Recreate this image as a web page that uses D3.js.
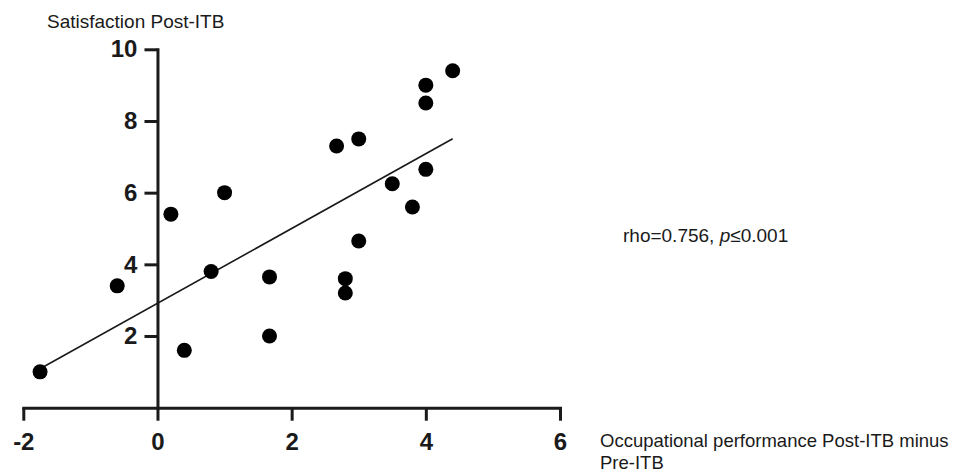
<!DOCTYPE html>
<html>
<head>
<meta charset="utf-8">
<script src="https://cdn.jsdelivr.net/npm/d3@7"></script>
<style>
  body { margin: 0; background: #fff; }
  svg { display: block; font-family: "Liberation Sans", Arial, sans-serif; }
</style>
</head>
<body>
<svg id="chart" width="960" height="472"></svg>
<script>
// occupational performance change (x) vs satisfaction post-ITB (y)
const perfChange = [-1.75, -0.6, 0.2, 0.4, 0.8, 1.0, 1.67, 1.67, 2.67, 3.0, 2.8, 2.8, 3.0, 3.5, 3.8, 4.0, 4.0, 4.0, 4.4];
const satisfaction = [1.0, 3.4, 5.4, 1.6, 3.8, 6.0, 3.65, 2.0, 7.3, 7.5, 3.6, 3.2, 4.65, 6.25, 5.6, 9.0, 8.5, 6.65, 9.4];
const xTicks = [-2, 0, 2, 4, 6];
const yTicks = [2, 4, 6, 8, 10];
const statLabel = 'rho=0.756, ';
const pLabel = '≤0.001';

const svg = d3.select('#chart');
const ink = '#1a1a1a';

const xScale = d3.scaleLinear().domain([-2, 6]).range([23.3, 560]);
const yScale = d3.scaleLinear().domain([0, 10]).range([407.7, 49.3]);

const points = perfChange.map((x, i) => ({ x, y: satisfaction[i] }));

// least squares fit
const mx = d3.mean(points, d => d.x);
const my = d3.mean(points, d => d.y);
const slope = d3.sum(points, d => (d.x - mx) * (d.y - my)) / d3.sum(points, d => (d.x - mx) ** 2);
const intercept = my - slope * mx;
const fitX = d3.extent(points, d => d.x);

const axisx = d3.axisBottom(xScale).tickValues(xTicks).tickFormat(d => `${d}`)
  .tickSize(13).tickSizeOuter(0).tickPadding(12);
const axisy = d3.axisLeft(yScale).tickValues(yTicks).tickFormat(d => `${d}`)
  .tickSize(13).tickSizeOuter(0).tickPadding(7);

const gx = svg.append('g')
  .attr('transform', `translate(0,${yScale(0)})`)
  .call(axisx);

const gy = svg.append('g')
  .attr('transform', `translate(${xScale(0)},0)`)
  .call(axisy);

[gx, gy].forEach((g) => {
  g.selectAll('.domain').attr('stroke', ink).attr('stroke-width', 3).attr('stroke-linecap', 'square');
  g.selectAll('.tick line').attr('stroke', ink).attr('stroke-width', 3);
  g.selectAll('.tick text')
    .attr('fill', ink)
    .style('font-size', '24px')
    .style('font-weight', 'bold')
    .style('font-family', '"Liberation Sans", Arial, sans-serif');
});

svg.append('line')
  .attr('x1', xScale(fitX[0]))
  .attr('y1', yScale(intercept + slope * fitX[0]))
  .attr('x2', xScale(fitX[1]))
  .attr('y2', yScale(intercept + slope * fitX[1]))
  .attr('stroke', ink)
  .attr('stroke-width', 1.6);

svg.append('g')
  .selectAll('circle')
  .data(points)
  .enter()
  .append('circle')
  .attr('cx', d => xScale(d.x))
  .attr('cy', d => yScale(d.y))
  .attr('r', 7.5)
  .attr('fill', '#000');

svg.append('text')
  .attr('x', 47)
  .attr('y', 28)
  .attr('fill', ink)
  .style('font-size', '19px')
  .text('Satisfaction Post-ITB');

const stat = svg.append('text')
  .attr('x', 623)
  .attr('y', 242)
  .attr('fill', ink)
  .style('font-size', '19px');
stat.append('tspan').text(statLabel);
stat.append('tspan').style('font-style', 'italic').text('p');
stat.append('tspan').text(pLabel);

const xTitle = svg.append('text')
  .attr('x', 600)
  .attr('y', 447)
  .attr('fill', ink)
  .style('font-size', '18.5px');
xTitle.append('tspan').attr('x', 600).text('Occupational performance Post-ITB minus');
xTitle.append('tspan').attr('x', 600).attr('dy', 21.5).text('Pre-ITB');
</script>
</body>
</html>
